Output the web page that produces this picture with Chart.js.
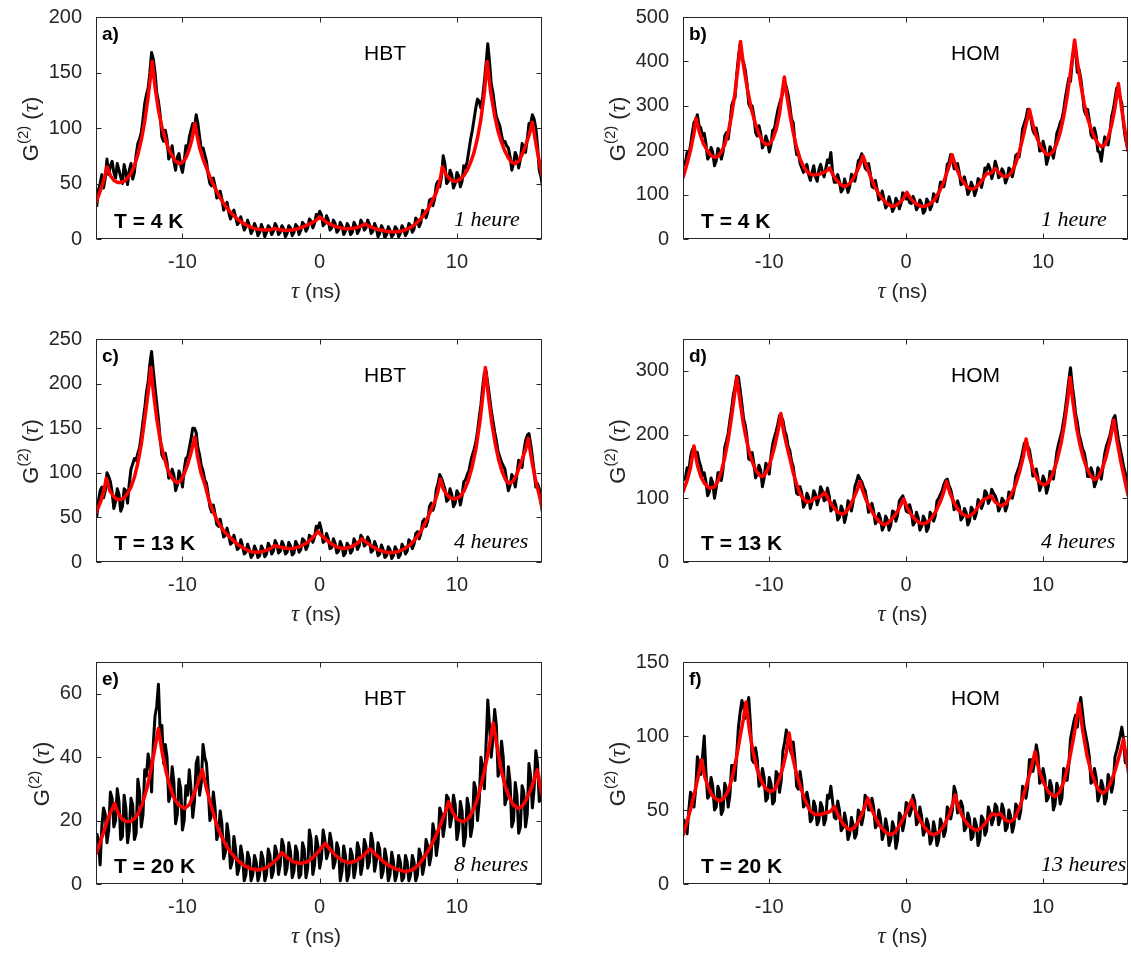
<!DOCTYPE html>
<html>
<head>
<meta charset="utf-8">
<script src="https://cdn.jsdelivr.net/npm/chart.js@4.4.1/dist/chart.umd.min.js"></script>
<style>
  html, body { margin: 0; padding: 0; background: #fff; }
  #fig { position: relative; width: 1131px; height: 954px; overflow: hidden; }
  #fig canvas { position: absolute; }
</style>
</head>
<body>
<div id="fig"></div>
<script>
// time axis of the measured histograms (ns): main bins and the bins in between
const tauGrid = [-16.25,
  -16,-15.75,-15.5,-15.25,-15,-14.75,-14.5,-14.25,
  -14,-13.75,-13.5,-13.25,-13,-12.75,-12.5,-12.25,
  -12,-11.75,-11.5,-11.25,-11,-10.75,-10.5,-10.25,
  -10,-9.75,-9.5,-9.25,-9,-8.75,-8.5,-8.25,
  -8,-7.75,-7.5,-7.25,-7,-6.75,-6.5,-6.25,
  -6,-5.75,-5.5,-5.25,-5,-4.75,-4.5,-4.25,
  -4,-3.75,-3.5,-3.25,-3,-2.75,-2.5,-2.25,
  -2,-1.75,-1.5,-1.25,-1,-0.75,-0.5,-0.25,
  0,0.25,0.5,0.75,1,1.25,1.5,1.75,
  2,2.25,2.5,2.75,3,3.25,3.5,3.75,
  4,4.25,4.5,4.75,5,5.25,5.5,5.75,
  6,6.25,6.5,6.75,7,7.25,7.5,7.75,
  8,8.25,8.5,8.75,9,9.25,9.5,9.75,
  10,10.25,10.5,10.75,11,11.25,11.5,11.75,
  12,12.25,12.5,12.75,13,13.25,13.5,13.75,
  14,14.25,14.5,14.75,15,15.25,15.5,15.75,
  16,16.25];
const tauMid = [
  -16.125,-15.875,-15.625,-15.375,-15.125,-14.875,-14.625,-14.375,
  -14.125,-13.875,-13.625,-13.375,-13.125,-12.875,-12.625,-12.375,
  -12.125,-11.875,-11.625,-11.375,-11.125,-10.875,-10.625,-10.375,
  -10.125,-9.875,-9.625,-9.375,-9.125,-8.875,-8.625,-8.375,
  -8.125,-7.875,-7.625,-7.375,-7.125,-6.875,-6.625,-6.375,
  -6.125,-5.875,-5.625,-5.375,-5.125,-4.875,-4.625,-4.375,
  -4.125,-3.875,-3.625,-3.375,-3.125,-2.875,-2.625,-2.375,
  -2.125,-1.875,-1.625,-1.375,-1.125,-0.875,-0.625,-0.375,
  -0.125,0.125,0.375,0.625,0.875,1.125,1.375,1.625,
  1.875,2.125,2.375,2.625,2.875,3.125,3.375,3.625,
  3.875,4.125,4.375,4.625,4.875,5.125,5.375,5.625,
  5.875,6.125,6.375,6.625,6.875,7.125,7.375,7.625,
  7.875,8.125,8.375,8.625,8.875,9.125,9.375,9.625,
  9.875,10.125,10.375,10.625,10.875,11.125,11.375,11.625,
  11.875,12.125,12.375,12.625,12.875,13.125,13.375,13.625,
  13.875,14.125,14.375,14.625,14.875,15.125,15.375,15.625,
  15.875,16.125];

// measured G2 (black) on tauGrid
const hbt4K = [29,
  50,46,72,66,60,68,56,67,
  49,68,60,86,96,122,136,168,
  150,124,92,98,72,84,62,77,
  60,84,92,104,112,92,82,70,
  50,55,37,43,26,33,18,26,
  13,20,8,17,5,14,3,13,
  2,12,4,14,4,12,2,12,
  3,13,4,15,7,18,10,22,
  25,12,21,8,17,6,15,4,
  14,4,15,5,17,8,17,5,
  14,2,12,1,11,2,11,2,
  12,3,14,6,19,11,26,19,
  35,30,49,47,75,50,62,46,
  60,47,66,70,90,108,126,118,
  142,176,140,120,106,94,88,82,
  62,78,64,86,78,104,112,100,
  62,46];
const hom4K = [165,
  195,212,262,280,250,238,180,206,
  165,204,180,232,225,300,318,410,
  405,380,305,300,240,255,205,232,
  196,245,270,305,330,342,300,262,
  190,170,150,168,132,165,130,168,
  140,178,195,128,145,106,135,105,
  146,130,176,192,160,170,118,132,
  88,108,70,95,62,92,68,104,
  90,82,96,66,88,58,90,66,
  102,84,128,118,168,190,158,170,
  122,140,100,128,98,136,116,160,
  168,136,175,138,158,126,160,140,
  188,185,248,272,285,245,250,198,
  220,168,208,182,238,262,290,340,
  355,430,375,362,290,292,235,250,
  198,175,230,212,275,315,335,305,
  228,195];
const hbt13K = [50,
  80,72,100,90,60,82,57,82,
  66,104,116,122,142,172,202,236,
  196,160,120,122,94,104,80,102,
  84,116,128,150,145,120,102,88,
  62,64,42,48,28,38,20,30,
  14,25,9,20,5,18,5,18,
  6,21,9,24,10,23,9,22,
  8,23,11,26,14,30,22,40,
  44,22,32,15,26,10,23,7,
  21,10,26,14,30,18,28,11,
  23,7,19,5,17,4,17,5,
  20,9,25,15,32,26,45,40,
  62,58,82,98,88,68,82,62,
  80,64,90,98,112,126,146,176,
  212,200,170,146,124,112,104,80,
  98,84,114,106,136,144,118,84,
  82,54];
const hom13K = [128,
  148,165,180,172,150,140,104,132,
  100,140,128,180,202,240,275,290,
  248,215,162,172,132,152,118,155,
  138,185,205,230,222,198,175,150,
  108,118,86,108,84,112,90,118,
  96,116,80,96,66,88,62,96,
  80,118,136,126,112,78,92,60,
  76,50,72,50,80,64,96,104,
  80,90,58,78,50,72,48,78,
  64,96,106,122,130,114,82,96,
  66,84,58,86,68,98,84,112,
  92,114,104,80,100,80,110,100,
  135,150,172,190,176,135,146,112,
  135,108,142,130,172,195,222,262,
  305,258,220,190,172,134,148,118,
  148,130,170,190,212,230,192,165,
  140,108];
const hbt20K = [16,
  6,24,13,29,18,30,14,28,
  13,27,14,33,18,36,41,29,
  53,63,50,44,26,37,19,33,
  17,31,36,21,38,28,44,38,
  20,29,14,23,8,19,5,15,
  3,12,1,10,1,9,1,10,
  1,11,2,12,3,14,3,13,
  2,12,2,13,2,17,3,15,
  5,17,8,16,5,13,1,12,
  1,11,2,13,3,14,5,16,
  4,13,2,11,1,10,1,9,
  1,9,1,9,1,11,3,14,
  6,19,9,24,15,28,18,28,
  14,26,12,27,15,32,20,40,
  30,58,40,55,34,45,25,37,
  18,32,16,31,18,38,24,42,
  26,36];
const hom20K = [44,
  34,62,52,86,74,100,58,72,
  50,66,47,68,52,80,70,106,
  124,112,126,84,92,66,78,56,
  72,54,76,62,90,104,92,96,
  66,76,52,62,42,56,40,55,
  40,60,66,45,56,36,48,30,
  45,31,50,40,60,50,58,38,
  50,30,44,26,42,24,48,36,
  55,46,60,40,52,33,44,27,
  42,26,44,32,52,44,66,48,
  56,36,48,30,44,26,46,33,
  52,40,54,40,54,36,50,35,
  54,44,66,58,84,76,94,68,
  78,56,70,50,68,54,78,70,
  98,110,106,126,106,94,68,78,
  56,70,54,74,62,86,95,106,
  82,80];

// measured G2 (black) on tauMid
const hbt4KMid = [
  44,58,55,58,70,55,62,50,60,62,
  54,76,90,108,130,150,162,132,112,88,
  90,76,70,74,66,70,80,98,100,104,
  80,76,58,48,48,38,36,30,24,22,
  20,15,14,11,12,8,10,6,9,6,
  10,7,11,6,9,5,10,6,11,8,
  13,10,16,14,20,22,14,17,10,14,
  8,12,7,11,6,12,8,14,10,13,
  7,10,5,9,4,8,4,9,5,9,
  6,12,9,16,15,24,24,36,36,52,
  56,68,52,58,50,57,52,64,80,98,
  118,124,128,158,160,132,110,102,86,84,
  74,68,74,72,82,90,104,108,84,56];
const hom4KMid = [
  172,188,238,268,255,232,215,186,195,176,
  198,196,240,256,312,372,440,398,350,296,
  278,232,238,214,220,212,248,290,318,352,
  325,270,218,195,160,162,145,150,140,156,
  152,158,172,150,128,130,112,122,118,140,
  150,180,178,155,148,115,112,92,90,76,
  82,70,84,80,100,94,80,86,72,80,
  64,84,76,96,102,128,136,172,185,158,
  150,126,124,108,118,110,132,134,155,158,
  150,162,142,150,136,155,158,192,212,260,
  292,268,236,230,200,205,182,198,205,248,
  270,318,362,398,425,382,330,280,268,228,
  232,196,205,218,238,292,340,318,258,210];
const hbt13KMid = [
  68,84,80,96,78,68,76,62,80,88,
  110,114,128,158,190,222,215,178,138,116,
  112,96,98,86,96,104,118,138,150,128,
  108,92,76,56,54,40,38,30,30,22,
  22,16,18,11,14,8,13,7,14,9,
  17,12,20,12,19,11,18,10,19,14,
  24,18,28,28,38,36,24,26,16,21,
  12,18,10,18,13,22,18,27,20,24,
  13,18,9,14,7,14,7,13,8,16,
  12,22,20,34,32,48,46,66,64,88,
  94,82,70,76,66,76,74,92,102,120,
  134,162,196,214,186,158,136,118,108,92,
  86,94,98,112,124,142,132,102,88,66];
const hom13KMid = [
  132,142,176,170,158,136,126,110,124,116,
  140,146,190,222,262,292,270,225,195,160,
  155,138,144,132,150,166,196,216,228,206,
  182,158,128,106,108,92,102,94,106,100,
  112,98,104,84,88,70,82,74,92,94,
  126,130,118,98,82,80,64,68,56,66,
  58,78,74,100,96,78,80,62,70,56,
  66,54,74,72,100,112,128,120,102,86,
  88,70,78,64,82,76,94,92,108,98,
  108,96,86,96,88,108,112,142,160,186,
  182,160,136,132,120,128,118,140,150,185,
  206,240,285,278,232,200,178,158,134,140,
  126,142,150,182,198,225,210,178,150,120];
const hbt20KMid = [
  14,18,22,17,27,20,26,15,24,17,
  25,16,29,22,34,38,44,56,48,38,
  40,28,32,22,30,20,28,30,26,40,
  32,40,30,22,24,16,19,10,15,7,
  11,5,9,3,8,3,7,3,8,3,
  9,4,10,6,12,5,10,4,10,3,
  11,5,14,6,12,8,14,10,13,7,
  11,4,9,3,9,5,11,6,12,7,
  13,7,11,4,8,3,7,3,7,2,
  7,3,7,3,9,6,12,9,16,13,
  22,19,27,21,25,17,23,15,24,18,
  30,26,37,44,50,46,50,36,40,27,
  32,20,28,18,29,22,34,30,38,28];
const hom20KMid = [
  40,50,60,64,82,86,76,60,66,52,
  62,50,64,60,80,88,116,120,118,108,
  82,84,68,72,58,68,56,74,70,96,
  100,88,84,64,68,54,56,44,52,43,
  52,44,58,56,44,50,38,42,34,40,
  34,48,46,58,50,52,40,44,34,38,
  30,38,30,46,42,54,50,56,42,46,
  36,40,30,36,30,40,36,50,50,62,
  50,52,38,44,32,40,30,44,36,48,
  44,52,44,50,38,46,40,52,50,64,
  66,84,82,88,70,72,58,66,54,64,
  58,76,80,104,114,118,116,100,86,70,
  72,60,66,58,70,68,90,100,98,86];

// fitted model (red), [tau, G2] pairs
const fitHbt4K = [[-16.3,33],[-16,43],[-15.75,52],[-15.5,65],[-15.25,57],[-15,53],[-14.75,51],[-14.5,51],[-14.25,52],[-14,55],[-13.75,59],[-13.5,66],[-13.25,76],[-13,89],[-12.75,106],[-12.5,128],[-12.2,160],[-12,137],[-11.75,116],[-11.5,101],[-11.25,90],[-11,81],[-10.75,75],[-10.5,70],[-10.25,68],[-10,69],[-9.75,73],[-9.5,81],[-9.3,90],[-9.1,104],[-8.9,91],[-8.75,82],[-8.5,72],[-8.25,64],[-8,56],[-7.75,49],[-7.5,43],[-7.25,37],[-7,32],[-6.5,24],[-6,18],[-5.5,13.5],[-5,10.5],[-4.5,8.8],[-4,8],[-3.6,8.3],[-3.3,9.6],[-3,8.6],[-2.5,7.6],[-2,8],[-1.5,9.5],[-1,12],[-0.5,15],[-0.25,17],[0,20],[0.25,17.5],[0.5,15],[1,12],[1.5,10],[2,9.2],[2.5,9.6],[3,11.5],[3.3,13.5],[3.6,11.5],[4,9.5],[4.5,7.8],[5,6.8],[5.5,6.4],[6,7.2],[6.5,9.5],[7,13.5],[7.5,20],[8,29],[8.5,42],[8.75,52],[8.95,65],[9.2,58],[9.5,54],[9.75,52],[10,52],[10.25,54],[10.5,57],[10.75,62],[11,69],[11.25,78],[11.5,91],[11.75,108],[12,132],[12.2,160],[12.45,133],[12.75,111],[13,97],[13.25,87],[13.5,79],[13.75,73],[14,69],[14.25,68],[14.5,70],[14.75,76],[15,84],[15.25,93],[15.5,105],[15.75,86],[16,70],[16.2,57]];
const fitHom4K = [[-16.3,138],[-16,170],[-15.75,200],[-15.5,238],[-15.35,272],[-15.1,240],[-14.8,214],[-14.5,198],[-14.25,188],[-14,184],[-13.75,186],[-13.5,196],[-13.25,213],[-13,240],[-12.75,278],[-12.5,330],[-12.25,395],[-12.1,445],[-11.9,395],[-11.6,338],[-11.3,292],[-11,258],[-10.75,236],[-10.5,220],[-10.25,213],[-10,214],[-9.75,224],[-9.5,246],[-9.25,283],[-9.05,330],[-8.9,365],[-8.7,320],[-8.5,282],[-8.25,240],[-8,206],[-7.75,180],[-7.5,163],[-7.25,152],[-7,146],[-6.75,144],[-6.5,145],[-6.25,147],[-6,150],[-5.8,154],[-5.6,160],[-5.35,145],[-5.1,133],[-4.85,124],[-4.6,119],[-4.35,120],[-4.1,126],[-3.85,137],[-3.6,152],[-3.35,170],[-3.15,187],[-2.9,165],[-2.6,140],[-2.3,118],[-2,102],[-1.7,89],[-1.4,80],[-1.1,74],[-0.8,75],[-0.5,81],[-0.25,89],[0.05,105],[0.3,92],[0.6,82],[0.9,76],[1.2,73],[1.5,75],[1.8,80],[2.1,90],[2.4,106],[2.7,125],[3,152],[3.2,170],[3.35,190],[3.6,165],[3.9,142],[4.2,127],[4.5,116],[4.8,112],[5.1,116],[5.4,126],[5.7,140],[5.9,148],[6.1,147],[6.3,151],[6.5,159],[6.75,150],[7,143],[7.25,140],[7.5,143],[7.75,153],[8,170],[8.25,195],[8.5,225],[8.75,258],[9,292],[9.25,258],[9.5,232],[9.75,213],[10,199],[10.25,191],[10.5,190],[10.75,198],[11,215],[11.25,240],[11.5,275],[11.75,320],[12,375],[12.3,448],[12.5,400],[12.75,348],[13,305],[13.25,272],[13.5,248],[13.75,229],[14,215],[14.25,208],[14.5,212],[14.75,228],[15,256],[15.25,296],[15.5,350],[15.75,290],[16,240],[16.2,198]];
const fitHbt13K = [[-16.3,55],[-16,66],[-15.75,78],[-15.55,94],[-15.3,80],[-15,73],[-14.75,70],[-14.5,70],[-14.25,72],[-14,77],[-13.75,84],[-13.5,95],[-13.25,111],[-13,132],[-12.75,160],[-12.5,190],[-12.3,218],[-12.1,188],[-11.85,158],[-11.6,135],[-11.35,118],[-11.1,105],[-10.85,96],[-10.6,91],[-10.4,89],[-10.15,91],[-9.9,98],[-9.65,108],[-9.4,121],[-9.1,140],[-8.9,118],[-8.65,100],[-8.35,86],[-8.1,71],[-7.85,60],[-7.6,51],[-7.3,42],[-7,35],[-6.5,27],[-6,20],[-5.5,15],[-5,11.5],[-4.5,11],[-4,12.5],[-3.6,15],[-3.26,18.6],[-3,17],[-2.5,15.5],[-2,15],[-1.5,17],[-1,21],[-0.6,26],[-0.35,30],[-0.13,34.5],[0.1,30],[0.4,26],[0.8,21],[1.2,17],[1.7,15],[2.2,16.5],[2.6,19.5],[2.9,23],[3.08,26],[3.4,22],[3.8,17.5],[4.3,13.5],[4.8,11],[5.2,10.4],[5.7,11.5],[6.2,15],[6.6,19.5],[7,26],[7.4,35],[7.8,47],[8.1,58],[8.4,68],[8.6,78],[8.8,93],[9,82],[9.25,76],[9.5,72],[9.85,70.5],[10.2,73],[10.5,79],[10.8,90],[11.1,106],[11.4,128],[11.7,160],[11.9,188],[12.07,218],[12.3,185],[12.55,155],[12.8,132],[13.05,114],[13.3,101],[13.55,92],[13.8,88],[14.05,90],[14.3,96],[14.55,106],[14.8,117],[15,126],[15.2,138.5],[15.45,114],[15.7,94],[15.95,78],[16.2,62]];
const fitHom13K = [[-16.3,110],[-16,128],[-15.75,148],[-15.5,182],[-15.25,152],[-15,134],[-14.75,124],[-14.5,118],[-14.3,116],[-14,118],[-13.75,127],[-13.5,142],[-13.25,164],[-13,192],[-12.75,228],[-12.55,260],[-12.37,290],[-12.15,255],[-11.9,218],[-11.65,190],[-11.4,168],[-11.15,152],[-10.9,141],[-10.6,134],[-10.35,136],[-10.1,146],[-9.85,162],[-9.6,182],[-9.35,207],[-9.15,233],[-8.95,205],[-8.75,185],[-8.5,163],[-8.25,140],[-8,122],[-7.75,107],[-7.5,99],[-7.24,94],[-7,95],[-6.67,100],[-6.3,102],[-5.93,109],[-5.65,97],[-5.35,87],[-5.05,79],[-4.7,75],[-4.4,78],[-4.1,88],[-3.8,102],[-3.55,115],[-3.37,126.5],[-3.15,110],[-2.9,96],[-2.6,83],[-2.3,72],[-2,64],[-1.7,59],[-1.4,60],[-1.1,66],[-0.8,74],[-0.5,85],[-0.18,99],[0.1,84],[0.4,73],[0.7,66],[1,61],[1.3,60],[1.6,63],[1.9,70],[2.2,81],[2.5,95],[2.75,110],[2.95,126.5],[3.2,108],[3.5,93],[3.8,82],[4.1,75],[4.52,71],[4.9,76],[5.3,88],[5.62,98],[5.9,100],[6.2,104],[6.5,94],[6.93,88],[7.3,92],[7.7,107],[8,122],[8.3,143],[8.55,165],[8.76,193],[9,165],[9.3,143],[9.6,129],[9.85,123],[10.1,121],[10.4,125],[10.7,138],[11,158],[11.3,185],[11.55,215],[11.8,255],[11.97,290],[12.2,248],[12.45,210],[12.7,183],[12.95,162],[13.2,147],[13.45,136],[13.73,129],[14,132],[14.3,145],[14.6,165],[14.9,192],[15.16,223],[15.4,190],[15.65,160],[15.9,135],[16.2,105]];
const fitHbt20K = [[-16.3,9.5],[-16,13],[-15.7,17],[-15.4,21],[-14.95,25.4],[-14.7,22.5],[-14.4,20.5],[-14.1,19.7],[-13.8,19.7],[-13.5,20.6],[-13.2,22.5],[-12.9,25.5],[-12.6,30],[-12.3,36],[-12,43],[-11.75,49],[-11.5,42],[-11.2,35.5],[-10.9,30.5],[-10.6,27],[-10.3,25],[-9.85,23.8],[-9.5,25],[-9.2,28],[-8.9,31.5],[-8.55,36],[-8.3,31],[-8,26],[-7.7,21.5],[-7.4,17.5],[-7.1,14.5],[-6.8,12],[-6.4,9.5],[-6,7.5],[-5.5,5.8],[-5,4.8],[-4.45,4.4],[-4,4.9],[-3.5,6.3],[-3.1,8],[-2.75,9.9],[-2.4,8.5],[-2,7.2],[-1.6,6.6],[-1.32,6.5],[-0.9,7],[-0.5,8.3],[-0.1,10.2],[0.4,12.8],[0.8,10.6],[1.2,8.8],[1.7,7.3],[2.2,6.7],[2.7,7.4],[3.2,9],[3.65,11.1],[4,9.6],[4.5,7.6],[5,5.9],[5.6,4.6],[6.25,3.9],[6.8,4.5],[7.3,6.5],[7.8,9.7],[8.2,12.8],[8.5,15.5],[8.8,18.7],[9.1,22],[9.4,25.9],[9.7,22.5],[10,20.5],[10.45,19.6],[10.8,20.5],[11.1,22.5],[11.4,25.5],[11.7,30],[12,35.5],[12.3,42],[12.65,50.8],[12.9,44],[13.2,36.5],[13.5,31],[13.8,27.5],[14.1,25],[14.5,23.8],[14.8,24.8],[15.1,27],[15.4,30],[15.6,32.5],[15.85,36],[16.05,31],[16.25,27.5],[16.4,25]];
const fitHom20K = [[-16.3,33],[-16,42],[-15.7,52],[-15.4,64],[-15.15,74],[-14.95,84],[-14.7,72],[-14.4,64],[-14.1,59],[-13.67,56],[-13.3,58],[-13,63],[-12.7,72],[-12.4,85],[-12.1,101],[-11.9,111],[-11.7,123],[-11.45,104],[-11.2,90],[-10.9,78],[-10.6,70],[-10.3,65],[-9.93,62.4],[-9.6,64],[-9.3,70],[-9,79],[-8.75,89],[-8.55,102],[-8.3,86],[-8,74],[-7.7,65],[-7.4,57],[-7.06,50],[-6.7,47],[-6.3,47],[-5.9,48],[-5.55,49],[-5.23,52.3],[-4.95,46],[-4.6,40.5],[-4.3,37.5],[-4.05,36.6],[-3.8,38],[-3.5,42],[-3.2,48],[-2.8,58],[-2.5,50],[-2.2,44],[-1.9,39],[-1.5,35],[-1.18,33.2],[-0.8,35],[-0.4,41],[0,48],[0.4,56.8],[0.7,49],[1,43],[1.4,37.5],[1.7,34.5],[2,33.2],[2.4,35],[2.8,40],[3.2,48],[3.58,60.2],[3.85,51],[4.2,44],[4.6,39],[5.1,36.2],[5.5,38],[5.9,42.5],[6.27,47.5],[6.55,46.5],[6.88,47.5],[7.2,43.5],[7.58,42],[7.9,44],[8.3,52],[8.7,64],[9.1,77],[9.41,89.4],[9.7,77],[10,69],[10.4,62],[10.85,59],[11.2,62],[11.55,70],[11.9,83],[12.25,100],[12.63,122],[12.9,103],[13.2,87],[13.5,76],[13.85,67],[14.1,63],[14.38,61.3],[14.7,64],[15,70],[15.3,78],[15.6,88],[15.87,97.7],[16.1,84],[16.3,71]];

// axes
const xTickValues = [-10, 0, 10];
const yTicksA = [0, 50, 100, 150, 200];
const yTicksB = [0, 100, 200, 300, 400, 500];
const yTicksC = [0, 50, 100, 150, 200, 250];
const yTicksD = [0, 100, 200, 300];
const yTicksE = [0, 20, 40, 60];
const yTicksF = [0, 50, 100, 150];

const panels = [
  { black: hbt4K,  mid: hbt4KMid,  fit: fitHbt4K,  yTicks: yTicksA, yMax: 200, letter: 'a)', method: 'HBT', temp: 'T = 4 K',  dur: '1 heure',   col: 0, row: 0 },
  { black: hom4K,  mid: hom4KMid,  fit: fitHom4K,  yTicks: yTicksB, yMax: 500, letter: 'b)', method: 'HOM', temp: 'T = 4 K',  dur: '1 heure',   col: 1, row: 0 },
  { black: hbt13K, mid: hbt13KMid, fit: fitHbt13K, yTicks: yTicksC, yMax: 250, letter: 'c)', method: 'HBT', temp: 'T = 13 K', dur: '4 heures',  col: 0, row: 1 },
  { black: hom13K, mid: hom13KMid, fit: fitHom13K, yTicks: yTicksD, yMax: 350, letter: 'd)', method: 'HOM', temp: 'T = 13 K', dur: '4 heures',  col: 1, row: 1 },
  { black: hbt20K, mid: hbt20KMid, fit: fitHbt20K, yTicks: yTicksE, yMax: 70,  letter: 'e)', method: 'HBT', temp: 'T = 20 K', dur: '8 heures',  col: 0, row: 2 },
  { black: hom20K, mid: hom20KMid, fit: fitHom20K, yTicks: yTicksF, yMax: 150, letter: 'f)', method: 'HOM', temp: 'T = 20 K', dur: '13 heures', col: 1, row: 2 }
];

// page layout (pixels)
const cols = [
  { left: 0,   width: 560, plotLeft: 96,  padRight: 18 },
  { left: 565, width: 566, plotLeft: 118, padRight: 3 }
];
const rows = [
  { top: 0,   height: 322, padTop: 17, axisH: 83 },
  { top: 322, height: 322, padTop: 17, axisH: 82 },
  { top: 644, height: 310, padTop: 18, axisH: 70 }
];

const SANS = '"Liberation Sans", Arial, Helvetica, sans-serif';
const SERIF = '"Liberation Serif", "Times New Roman", serif';
const AXIS_COL = '#262626';

Chart.defaults.font.family = SANS;
Chart.defaults.color = AXIS_COL;

// put main bins and in-between bins back in time order
function histogram(vals, midVals) {
  const pts = [];
  tauGrid.forEach((t, i) => {
    pts.push({ x: t, y: vals[i] });
    if (i < tauMid.length) pts.push({ x: tauMid[i], y: midVals[i] });
  });
  return pts;
}

// box, inward ticks, annotations and axis titles, matlab style
const decorate = {
  id: 'decorate',
  afterDatasetsDraw(chart) {
    const p = chart.options.plugins.decorate;
    const ctx = chart.ctx;
    const a = chart.chartArea;
    const xs = chart.scales.x, ys = chart.scales.y;
    const L = Math.round(a.left) + 0.5, R = Math.round(a.right) - 0.5;
    const T = Math.round(a.top) + 0.5, B = Math.round(a.bottom) - 0.5;
    ctx.save();
    ctx.strokeStyle = AXIS_COL;
    ctx.lineWidth = 1;
    ctx.strokeRect(L, T, R - L, B - T);
    ctx.beginPath();
    xTickValues.forEach(v => {
      const px = Math.round(xs.getPixelForValue(v)) + 0.5;
      ctx.moveTo(px, B); ctx.lineTo(px, B - 5);
      ctx.moveTo(px, T); ctx.lineTo(px, T + 5);
    });
    p.yTicks.forEach(v => {
      const py = Math.round(ys.getPixelForValue(v)) + 0.5;
      ctx.moveTo(L, py); ctx.lineTo(L + 5, py);
      ctx.moveTo(R, py); ctx.lineTo(R - 5, py);
    });
    ctx.stroke();

    // labels inside the panel
    ctx.fillStyle = '#000';
    ctx.textBaseline = 'alphabetic';
    ctx.textAlign = 'left';
    ctx.font = 'bold 19px ' + SANS;
    ctx.fillText(p.letter, a.left + 6, a.top + 23);
    ctx.font = '21px ' + SANS;
    ctx.fillText(p.method, a.left + 268, a.top + 43);
    ctx.font = 'bold 21px ' + SANS;
    ctx.fillText(p.temp, a.left + 18, a.top + 211);
    ctx.font = 'italic 22px ' + SERIF;
    ctx.fillText(p.dur, a.left + 358, a.top + 209);

    // x title: tau (ns)
    ctx.fillStyle = AXIS_COL;
    const tauFont = 'italic 23px ' + SERIF;
    ctx.font = tauFont;
    const wTau = ctx.measureText('τ').width;
    ctx.font = '21px ' + SANS;
    const wNs = ctx.measureText(' (ns)').width;
    const x0 = (a.left + a.right) / 2 - 3 - (wTau + wNs) / 2;
    const yb = a.bottom + 59;
    ctx.font = tauFont;
    ctx.fillText('τ', x0, yb);
    ctx.font = '21px ' + SANS;
    ctx.fillText(' (ns)', x0 + wTau, yb);

    // y title: G^(2) (tau), rotated
    ctx.font = '20px ' + SANS;
    const labW = Math.max(...p.yTicks.map(v => ctx.measureText(String(v)).width));
    const parts = [
      { t: 'G', f: '22px ' + SANS, dy: 0 },
      { t: '(2)', f: '15px ' + SANS, dy: -10 },
      { t: ' (', f: '22px ' + SANS, dy: 0 },
      { t: 'τ', f: 'italic 23px ' + SERIF, dy: 0 },
      { t: ')', f: '22px ' + SANS, dy: 0 }
    ];
    let total = 0;
    parts.forEach(q => { ctx.font = q.f; q.w = ctx.measureText(q.t).width; total += q.w; });
    ctx.translate(a.left - 14 - labW - 11, (a.top + a.bottom) / 2 + 1 + total / 2);
    ctx.rotate(-Math.PI / 2);
    let cx = 0;
    parts.forEach(q => { ctx.font = q.f; ctx.fillText(q.t, cx, q.dy); cx += q.w; });
    ctx.restore();
  }
};

const fig = document.getElementById('fig');

panels.forEach(p => {
  const c = cols[p.col], r = rows[p.row];
  const cv = document.createElement('canvas');
  cv.width = c.width; cv.height = r.height;
  cv.style.left = c.left + 'px'; cv.style.top = r.top + 'px';
  cv.style.width = c.width + 'px'; cv.style.height = r.height + 'px';
  fig.appendChild(cv);

  new Chart(cv, {
    type: 'line',
    data: {
      datasets: [
        {
          data: p.fit.map(d => ({ x: d[0], y: d[1] })),
          borderColor: '#ff0000', borderWidth: 3.5,
          borderJoinStyle: 'round', borderCapStyle: 'round',
          pointRadius: 0, tension: 0
        },
        {
          data: histogram(p.black, p.mid),
          borderColor: '#000000', borderWidth: 3,
          borderJoinStyle: 'round',
          pointRadius: 0, tension: 0
        }
      ]
    },
    options: {
      responsive: false,
      animation: false,
      devicePixelRatio: 1,
      events: [],
      layout: { padding: { left: 0, right: c.padRight, top: r.padTop, bottom: 0 } },
      plugins: {
        legend: { display: false },
        tooltip: { enabled: false },
        decorate: { yTicks: p.yTicks, letter: p.letter, method: p.method, temp: p.temp, dur: p.dur }
      },
      scales: {
        x: {
          type: 'linear', min: -16.3, max: 16.2,
          grid: { display: false, drawTicks: false },
          border: { display: false },
          afterBuildTicks: s => { s.ticks = xTickValues.map(v => ({ value: v })); },
          afterFit: s => { s.height = r.axisH; s.paddingLeft = 0; s.paddingRight = 0; s.paddingTop = 0; s.paddingBottom = 0; },
          ticks: {
            autoSkip: false, maxRotation: 0, minRotation: 0, padding: 11,
            color: AXIS_COL, font: { size: 20 },
            callback: v => String(v)
          }
        },
        y: {
          type: 'linear', min: 0, max: p.yMax,
          grid: { display: false, drawTicks: false },
          border: { display: false },
          afterBuildTicks: s => { s.ticks = p.yTicks.map(v => ({ value: v })); },
          afterFit: s => { s.width = c.plotLeft; s.paddingLeft = 0; s.paddingRight = 0; s.paddingTop = 0; s.paddingBottom = 0; },
          ticks: {
            padding: 14, color: AXIS_COL, font: { size: 20 },
            callback: v => String(v)
          }
        }
      }
    },
    plugins: [decorate]
  });
});
</script>
</body>
</html>
